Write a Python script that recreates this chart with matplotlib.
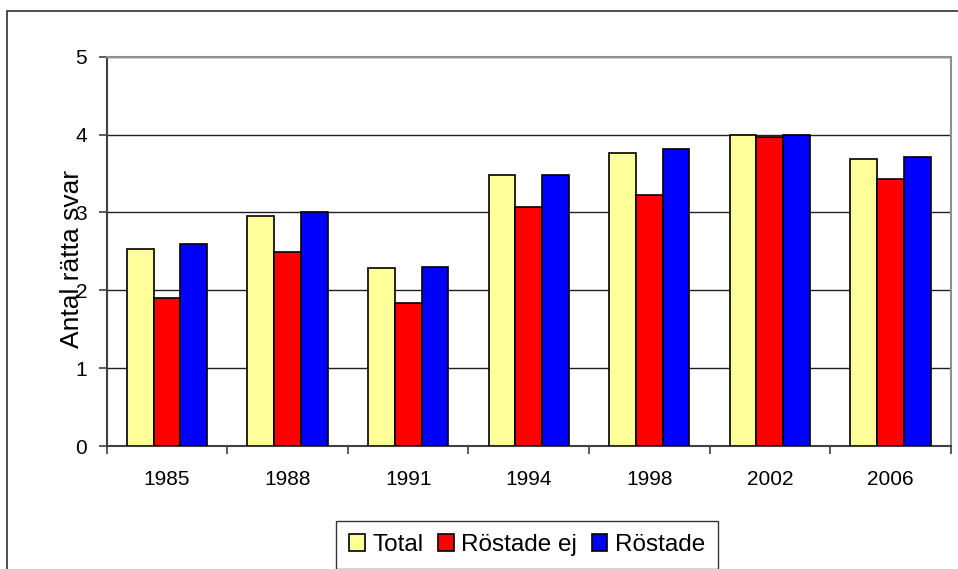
import numpy as np
import matplotlib
matplotlib.use("Agg")
import matplotlib.pyplot as plt
from matplotlib.patches import Rectangle

years = ["1985", "1988", "1991", "1994", "1998", "2002", "2006"]
total = [2.53, 2.95, 2.28, 3.48, 3.76, 3.99, 3.69]
rostade_ej = [1.90, 2.49, 1.84, 3.07, 3.23, 3.97, 3.43]
rostade = [2.59, 3.00, 2.30, 3.48, 3.82, 4.00, 3.71]

series = [("Total", total, "#ffff99"),
          ("Röstade ej", rostade_ej, "#ff0000"),
          ("Röstade", rostade, "#0000ff")]

plt.rcParams['font.family'] = ['Liberation Sans', 'DejaVu Sans']

fig = plt.figure(figsize=(9.58, 5.69), dpi=100)
ax = fig.add_axes([106.7/958, 123/569, 844/958, 389.3/569])

x = np.arange(len(years))
w = 0.222
for i, (name, vals, col) in enumerate(series):
    ax.bar(x + (i - 1) * w, vals, width=w, color=col, edgecolor="black",
           linewidth=1.2, label=name, zorder=3)

ax.set_xlim(-0.5, len(years) - 0.5)
ax.set_ylim(0, 5)
ax.set_yticks(range(6))
ax.yaxis.grid(True, color="#202020", linewidth=1.0, zorder=0)

ax.set_xticks(x)
ax.set_xticklabels(years, fontsize=15)
ax.set_xticks(np.arange(len(years) + 1) - 0.5, minor=True)
ax.tick_params(axis="x", which="major", length=0, pad=17)
ax.tick_params(axis="x", which="minor", length=6, width=1.2, color="#404040", direction="out")
ax.tick_params(axis="y", length=6, width=1.2, color="#404040", labelsize=15, pad=8)

for s in ["left", "bottom"]:
    ax.spines[s].set_color("#404040")
    ax.spines[s].set_linewidth(1.5)
for s in ["top", "right"]:
    ax.spines[s].set_color("#909090")
    ax.spines[s].set_linewidth(1.5)

ax.set_ylabel("Antal rätta svar", fontsize=19, labelpad=-6)
ax.yaxis.label.set_y(0.48)

leg = fig.legend(loc="center", bbox_to_anchor=(527/958, 24/569), ncol=3,
                 fontsize=17.5, frameon=True, fancybox=False, edgecolor="black",
                 handlelength=0.65, handleheight=0.65, handletextpad=0.3,
                 columnspacing=0.6, borderpad=0.55, borderaxespad=0)
leg.get_frame().set_linewidth(1.0)

fig.patches.append(Rectangle((7/958, -0.1), 1.2, (569 - 11)/569 + 0.1,
                             transform=fig.transFigure, fill=False,
                             edgecolor="#303030", linewidth=1.2, zorder=0))

fig.savefig("out.png", dpi=100)
